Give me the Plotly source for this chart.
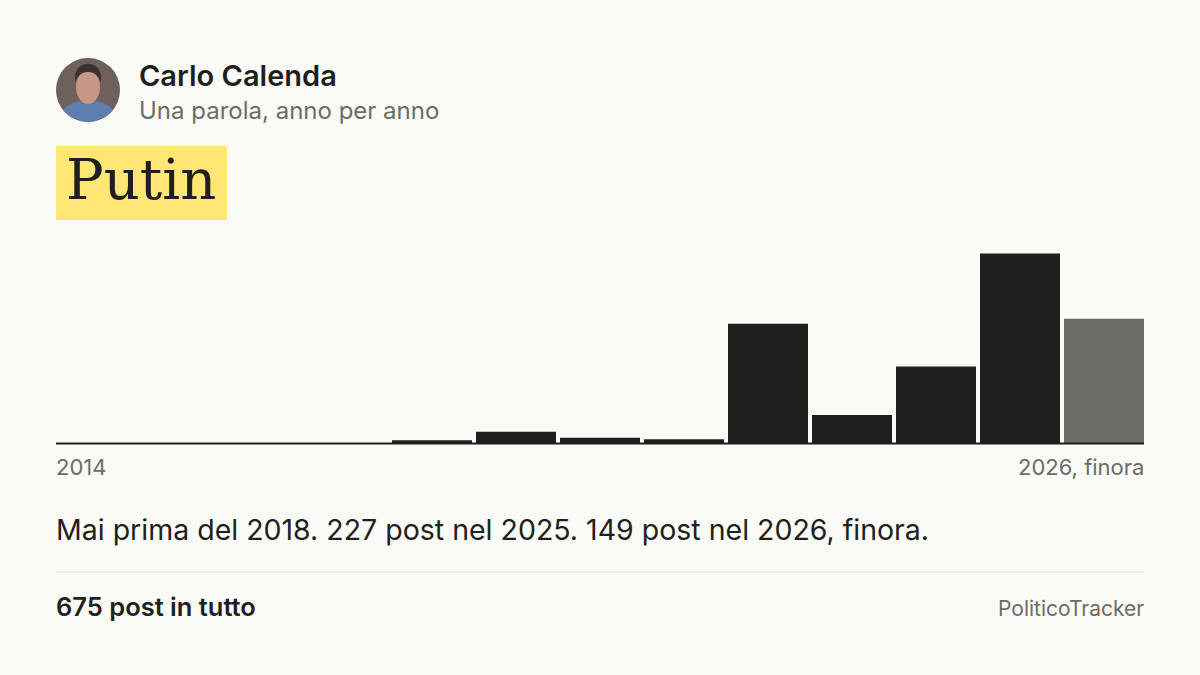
import plotly.graph_objects as go

# dati: post che contengono la parola, per anno
years = list(range(2014, 2027))
posts = [0, 0, 0, 0, 4, 14, 7, 5, 143, 34, 92, 227, 149]
bar_colors = ["#1f1f1d"] * 12 + ["#6c6c66"]

name = "Carlo Calenda"
subtitle = "Una parola, anno per anno"
word = "Putin"
first_label = "2014"
last_label = "2026, finora"
summary = "Mai prima del 2018. 227 post nel 2025. 149 post nel 2026, finora."
total_text = "675 post in tutto"
source = "PoliticoTracker"

W, H = 1200, 675
BG = "#fafaf6"
DARK = "#1f1f1d"
GREY = "#6c6c66"
SANS = "Inter, Noto Sans, sans-serif"


def px(x):
    return x / W


def py(y):
    return 1 - y / H


plot_top, plot_bottom = 235, 443.5
y_max = max(posts) * (plot_bottom - plot_top) / 190

fig = go.Figure(go.Bar(
    x=years, y=posts,
    marker=dict(color=bar_colors, line=dict(width=0)),
    hoverinfo="x+y",
))

fig.update_layout(
    width=W, height=H,
    margin=dict(l=0, r=0, t=0, b=0),
    paper_bgcolor=BG, plot_bgcolor=BG,
    bargap=4 / 84,
    showlegend=False,
    xaxis=dict(domain=[px(54), px(1146)], range=[2013.5, 2026.5],
               visible=False, fixedrange=True),
    yaxis=dict(domain=[py(plot_bottom), py(plot_top)], range=[0, y_max],
               visible=False, fixedrange=True),
)

shapes = [
    # baseline
    dict(type="line", xref="paper", yref="paper",
         x0=px(56), x1=px(1144), y0=py(443.5), y1=py(443.5),
         line=dict(color=DARK, width=2)),
    # divider
    dict(type="line", xref="paper", yref="paper",
         x0=px(56), x1=px(1144), y0=py(572), y1=py(572),
         line=dict(color="#e2e2dd", width=1)),
    # yellow highlight
    dict(type="rect", xref="paper", yref="paper",
         x0=px(56), x1=px(227), y0=py(220), y1=py(146),
         fillcolor="#ffe675", line=dict(width=0), layer="below"),
    # avatar: background, shoulders, face, hair
    dict(type="circle", xref="paper", yref="paper",
         x0=px(56), x1=px(120), y0=py(122), y1=py(58),
         fillcolor="#6d605d", line=dict(width=0)),
    dict(type="path", xref="paper", yref="paper",
         path=(f"M {px(63)} {py(110)} Q {px(72)} {py(100)} {px(88)} {py(100)} "
               f"Q {px(104)} {py(100)} {px(113)} {py(110)} "
               f"Q {px(102)} {py(122)} {px(88)} {py(122)} "
               f"Q {px(74)} {py(122)} {px(63)} {py(110)} Z"),
         fillcolor="#5d7eae", line=dict(width=0)),
    dict(type="circle", xref="paper", yref="paper",
         x0=px(76), x1=px(100), y0=py(104), y1=py(70),
         fillcolor="#c99885", line=dict(width=0)),
    dict(type="path", xref="paper", yref="paper",
         path=(f"M {px(75)} {py(82)} Q {px(74)} {py(64)} {px(88)} {py(64)} "
               f"Q {px(102)} {py(64)} {px(101)} {py(82)} "
               f"Q {px(96)} {py(71)} {px(88)} {py(72)} "
               f"Q {px(80)} {py(71)} {px(75)} {py(82)} Z"),
         fillcolor="#3a3230", line=dict(width=0)),
]
fig.update_layout(shapes=shapes)


def note(text, x, y, size, color=DARK, anchor="left", family=SANS, weight=400):
    fig.add_annotation(
        text=text, x=px(x), y=py(y), xref="paper", yref="paper",
        xanchor=anchor, yanchor="middle", showarrow=False,
        font=dict(family=family, size=size, color=color, weight=weight),
    )


note(name, 137, 75, 29, weight=600)
note(subtitle, 137, 110, 24, color=GREY)
note(word, 64, 180, 56, family="DejaVu Serif, serif")
note(first_label, 54, 467, 22, color=GREY)
note(last_label, 1146, 467, 22, color=GREY, anchor="right")
note(summary, 54, 529, 28.5)
note(total_text, 54, 606, 25.5, weight=600)
note(source, 1146, 608, 21, color=GREY, anchor="right")

# the page's default body margin would push the figure off the window
fig.write_html("out.html", config={"displayModeBar": False},
               post_script="document.body.style.margin='0';")
